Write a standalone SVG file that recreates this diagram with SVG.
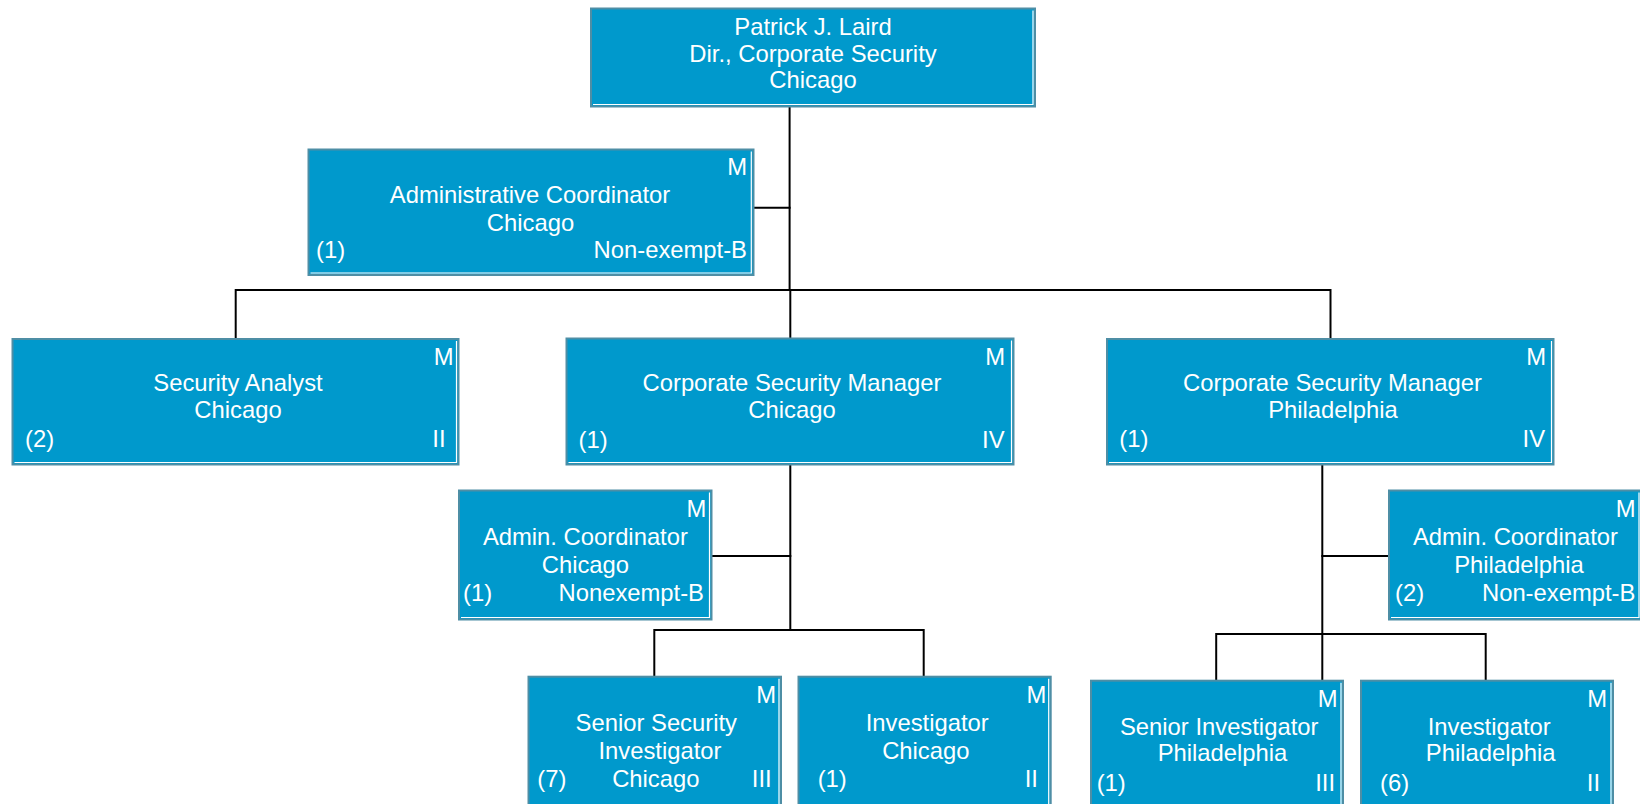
<svg xmlns="http://www.w3.org/2000/svg" width="1640" height="804" viewBox="0 0 1640 804">
<style>
.box{fill:#0099cc;stroke:#4e8ea5;stroke-width:2}
.hl{fill:none;stroke:#ffffff;stroke-width:1.2}
text{font-family:"Liberation Sans",Arial,Helvetica,sans-serif;font-size:23.8px;fill:#ffffff}
.c{text-anchor:middle}
.e{text-anchor:end}
.conn{fill:none;stroke:#000000;stroke-width:2}
</style>
<rect width="1640" height="804" fill="#ffffff"/>
<g id="connectors" class="conn">
<path d="M789.6,107 V290"/>
<path d="M753.3,207.7 H790.6"/>
<path d="M235.7,290 H1330.5"/>
<path d="M235.7,289 V339"/>
<path d="M790.3,289 V338.5"/>
<path d="M1330.5,289 V339"/>
<path d="M790.3,464.5 V630"/>
<path d="M711.5,556 H791.3"/>
<path d="M654.3,630 H923.7"/>
<path d="M654.3,629 V676.7"/>
<path d="M923.7,629 V676.7"/>
<path d="M1322.3,464.5 V680.7"/>
<path d="M1321.3,556 H1389"/>
<path d="M1216.2,634 H1485.7"/>
<path d="M1216.2,633 V680.7"/>
<path d="M1485.7,633 V680.7"/>
</g>
<g id="n-director">
<rect class="box" x="591" y="8.5" width="444" height="98"/>
<path class="hl" d="M593,104.5 H1033 V10.5"/>
<text class="c" x="813" y="35">Patrick J. Laird</text>
<text class="c" x="813" y="61.7">Dir., Corporate Security</text>
<text class="c" x="813" y="88.4">Chicago</text>
</g>
<g id="n-admin-coord">
<rect class="box" x="308.5" y="149.5" width="445" height="125.5"/>
<path class="hl" d="M310.5,273 H751.3 V151.5"/>
<text class="e" x="747" y="175.3">M</text>
<text class="c" x="530" y="202.7">Administrative Coordinator</text>
<text class="c" x="530.5" y="230.5">Chicago</text>
<text x="316" y="258">(1)</text>
<text class="e" x="747" y="258">Non-exempt-B</text>
</g>
<g id="n-security-analyst">
<rect class="box" x="12.5" y="339" width="446" height="125.5"/>
<path class="hl" d="M14.5,462.5 H456.5 V341"/>
<text class="e" x="453.5" y="365">M</text>
<text class="c" x="238" y="390.5">Security Analyst</text>
<text class="c" x="238" y="418">Chicago</text>
<text x="25" y="447">(2)</text>
<text class="e" x="445.5" y="447">II</text>
</g>
<g id="n-csm-chicago">
<rect class="box" x="566.5" y="338.5" width="447" height="126"/>
<path class="hl" d="M568.5,462.5 H1011.5 V340.5"/>
<text class="e" x="1005" y="365">M</text>
<text class="c" x="792" y="390.5">Corporate Security Manager</text>
<text class="c" x="792" y="418">Chicago</text>
<text x="578.6" y="447.5">(1)</text>
<text class="e" x="1004.5" y="447.5">IV</text>
</g>
<g id="n-csm-philadelphia">
<rect class="box" x="1107" y="339" width="446.5" height="125.5"/>
<path class="hl" d="M1109,462.5 H1551.5 V341"/>
<text class="e" x="1546" y="365">M</text>
<text class="c" x="1332.5" y="390.7">Corporate Security Manager</text>
<text class="c" x="1333" y="418.3">Philadelphia</text>
<text x="1119.3" y="447">(1)</text>
<text class="e" x="1545" y="447">IV</text>
</g>
<g id="n-admin-chicago">
<rect class="box" x="459" y="490.5" width="252.5" height="129"/>
<path class="hl" d="M461,617.5 H709.5 V492.5"/>
<text class="e" x="706.3" y="516.7">M</text>
<text class="c" x="585.4" y="545">Admin. Coordinator</text>
<text class="c" x="585.4" y="572.7">Chicago</text>
<text x="463" y="601">(1)</text>
<text class="e" x="704" y="601">Nonexempt-B</text>
</g>
<g id="n-admin-philadelphia">
<rect class="box" x="1389" y="490.5" width="252" height="129"/>
<path class="hl" d="M1391,617.5 H1639 V492.5"/>
<text class="e" x="1635.5" y="516.7">M</text>
<text class="c" x="1515.5" y="545">Admin. Coordinator</text>
<text class="c" x="1519" y="572.7">Philadelphia</text>
<text x="1395" y="601">(2)</text>
<text class="e" x="1635.4" y="601">Non-exempt-B</text>
</g>
<g id="n-senior-sec-inv">
<rect class="box" x="528.5" y="676.7" width="252.5" height="140"/>
<path class="hl" d="M779,678.7 V814"/>
<text class="e" x="776" y="703.3">M</text>
<text class="c" x="656.3" y="730.7">Senior Security</text>
<text class="c" x="660" y="759">Investigator</text>
<text class="c" x="655.8" y="787.3">Chicago</text>
<text x="537.3" y="787.3">(7)</text>
<text class="e" x="771.7" y="787.3">III</text>
</g>
<g id="n-investigator-chicago">
<rect class="box" x="798.5" y="676.7" width="252.2" height="140"/>
<path class="hl" d="M1048.7,678.7 V814"/>
<text class="e" x="1046.4" y="703.3">M</text>
<text class="c" x="927.2" y="730.7">Investigator</text>
<text class="c" x="925.8" y="759">Chicago</text>
<text x="817.7" y="787.3">(1)</text>
<text class="e" x="1037.9" y="787.3">II</text>
</g>
<g id="n-senior-inv-philadelphia">
<rect class="box" x="1091" y="680.7" width="252" height="140"/>
<path class="hl" d="M1341,682.7 V814"/>
<text class="e" x="1337.7" y="706.7">M</text>
<text class="c" x="1219.2" y="734.7">Senior Investigator</text>
<text class="c" x="1222.5" y="760.7">Philadelphia</text>
<text x="1096.7" y="790.7">(1)</text>
<text class="e" x="1335" y="790.7">III</text>
</g>
<g id="n-investigator-philadelphia">
<rect class="box" x="1361" y="680.7" width="252" height="140"/>
<path class="hl" d="M1611,682.7 V814"/>
<text class="e" x="1607" y="706.7">M</text>
<text class="c" x="1489.2" y="734.7">Investigator</text>
<text class="c" x="1490.7" y="760.7">Philadelphia</text>
<text x="1380" y="790.7">(6)</text>
<text class="e" x="1600" y="790.7">II</text>
</g>
</svg>
